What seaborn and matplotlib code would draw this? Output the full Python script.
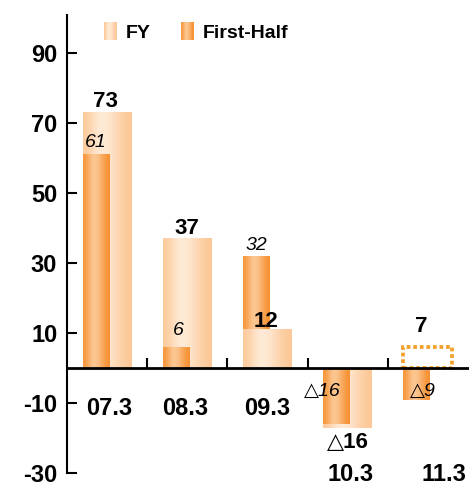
import numpy as np
import matplotlib
matplotlib.use("Agg")
import matplotlib.pyplot as plt
import seaborn as sns
from matplotlib.patches import Patch

# ---------------- DATA ----------------
periods = ["07.3", "08.3", "09.3", "10.3", "11.3"]
fy_values = [73, 37, 11, -17, 6]      # full year (last one is the forecast box)
fh_values = [61, 6, 32, -16, -9]      # first half
fy_labels = ["73", "37", "12", "△16", "7"]
fh_labels = ["61", "6", "32", "△16", "△9"]
y_ticks = [90, 70, 50, 30, 10, -10, -30]

# ---------------- LAYOUT (pixel offsets for labels) ----------------
fy_label_dx = [-2, 0, -2, 0, -7]
fy_label_gap = [1, 0, -2, 4, 10]
fh_label_off = [(0, 4), (2, 8), (0, 2), (-14, -23), (6, -23)]
cat_label_off = [(2, -40), (-2, -40), (0, -40), (3, -106), (16, -106)]

# ---------------- STYLE ----------------
sns.set_style("white")
plt.rcParams["font.family"] = ["Liberation Sans", "DejaVu Sans"]
plt.rcParams["text.color"] = "black"
plt.rcParams["xtick.color"] = "black"
plt.rcParams["ytick.color"] = "black"
plt.rcParams["axes.labelcolor"] = "black"

fy_edge_l, fy_mid, fy_edge_r = (252, 203, 158), (255, 234, 214), (252, 200, 152)
fh_edge_l, fh_mid, fh_edge_r = (247, 152, 62), (252, 198, 145), (246, 146, 52)
box_color = "#F5A028"


def gradient(left, mid, right, peak=0.4, n=80):
    t = np.linspace(0, 1, n)
    out = np.zeros((n, 3))
    for i, v in enumerate(t):
        if v < peak:
            s = v / peak
            a, b = left, mid
        else:
            s = (v - peak) / (1 - peak)
            a, b = mid, right
        s = s * s * (3 - 2 * s)
        out[i] = [(a[k] + (b[k] - a[k]) * s) / 255 for k in range(3)]
    return out[np.newaxis, :, :]


fy_grad = gradient(fy_edge_l, fy_mid, fy_edge_r, peak=0.38)
fh_grad = gradient(fh_edge_l, fh_mid, fh_edge_r, peak=0.42)

fig = plt.figure(figsize=(4.69, 4.86), dpi=100)
ax = fig.add_axes([67 / 469, 13 / 486, 401 / 469, 458 / 486])

fy_w, fh_w = 0.61, 0.33
sns.barplot(x=periods, y=fy_values, width=fy_w, color="#FDD7B2",
            errorbar=None, ax=ax)
n_fy = len(ax.patches)
sns.barplot(x=periods, y=fh_values, width=fh_w, color="#F7A055",
            errorbar=None, ax=ax)
fy_bars = ax.patches[:n_fy]
fh_bars = ax.patches[n_fy:]

# left-align first-half bars with full-year bars
for p in fh_bars:
    p.set_x(p.get_x() - (fy_w - fh_w) / 2)

for i, (pf, ph) in enumerate(zip(fy_bars, fh_bars)):
    # the smaller bar goes in front
    if abs(fh_values[i]) <= abs(fy_values[i]):
        zf, zh = 2, 3
    else:
        zf, zh = 3, 2
    for p, g, z in ((ph, fh_grad, zh), (pf, fy_grad, zf)):
        if p is pf and i == len(periods) - 1:
            p.set_facecolor("none")
            p.set_edgecolor(box_color)
            p.set_linewidth(2.7)
            p.set_linestyle((0, (1.0, 0.75)))
            p.set_capstyle("butt")
            p.set_zorder(z)
            continue
        x0, y0 = p.get_x(), p.get_y()
        x1, y1 = x0 + p.get_width(), y0 + p.get_height()
        ax.imshow(g, extent=(x0, x1, min(y0, y1), max(y0, y1)),
                  aspect="auto", zorder=z, interpolation="bicubic")
        p.set_facecolor("none")
        p.set_edgecolor("none")

# ---------------- AXES ----------------
ax.set_xlim(-0.5, 4.5)
ax.set_ylim(-30, 101)
ax.spines["top"].set_visible(False)
ax.spines["right"].set_visible(False)
ax.spines["bottom"].set_position(("data", 0))
ax.spines["bottom"].set_linewidth(2)
ax.spines["left"].set_linewidth(1.5)
ax.spines["bottom"].set_color("black")
ax.spines["left"].set_color("black")
ax.spines["bottom"].set_zorder(5)

ax.set_yticks(y_ticks)
ax.set_yticklabels([str(v) for v in y_ticks], fontsize=17, fontweight="bold")
ax.tick_params(axis="y", direction="in", length=7, width=1.5, pad=7,
               left=True, color="black", labelcolor="black")
ax.set_xticks([i + 0.5 for i in range(len(periods) - 1)])
ax.set_xticklabels([""] * (len(periods) - 1))
ax.tick_params(axis="x", direction="in", length=7, width=1.5, bottom=True,
               color="black")
ax.set_xlabel("")
ax.set_ylabel("")

# ---------------- LABELS ----------------
for i, p in enumerate(fy_bars):
    cx = p.get_x() + p.get_width() / 2
    v = fy_values[i]
    if v >= 0:
        ax.annotate(fy_labels[i], (cx, v), xytext=(fy_label_dx[i], fy_label_gap[i]),
                    textcoords="offset pixels", ha="center", va="bottom",
                    fontsize=16, fontweight="bold", zorder=6, color="black",
                    family=["Liberation Sans", "DejaVu Sans"])
    else:
        ax.annotate(fy_labels[i], (cx, v), xytext=(fy_label_dx[i], -fy_label_gap[i]),
                    textcoords="offset pixels", ha="center", va="top",
                    fontsize=16, fontweight="bold", zorder=6, color="black",
                    family=["Liberation Sans", "DejaVu Sans"])

for i, p in enumerate(fh_bars):
    cx = p.get_x() + p.get_width() / 2
    v = fh_values[i]
    dx, dy = fh_label_off[i]
    if v >= 0:
        ax.annotate(fh_labels[i], (cx, v), xytext=(dx, dy),
                    textcoords="offset pixels", ha="center", va="bottom",
                    fontsize=14, fontstyle="italic", zorder=6, color="black",
                    family=["Liberation Sans", "DejaVu Sans"])
    else:
        ax.annotate(fh_labels[i], (cx, 0), xytext=(dx, dy),
                    textcoords="offset pixels", ha="center", va="center",
                    fontsize=14, fontstyle="italic", zorder=6, color="black",
                    family=["Liberation Sans", "DejaVu Sans"])

for i, name in enumerate(periods):
    dx, dy = cat_label_off[i]
    ax.annotate(name, (i, 0), xytext=(dx, dy), textcoords="offset pixels",
                ha="center", va="center", fontsize=17, fontweight="bold",
                color="black", annotation_clip=False, zorder=6)

# ---------------- LEGEND ----------------
handles = [Patch(facecolor="#FDD7B2", edgecolor="none"),
           Patch(facecolor="#F7A055", edgecolor="none")]
leg = ax.legend(handles, ["FY", "First-Half"], loc="upper left",
                bbox_to_anchor=(0.093, 0.985), ncol=2, frameon=False,
                handlelength=0.62, handleheight=1.05, handletextpad=0.5,
                columnspacing=1.55, borderpad=0, borderaxespad=0,
                labelcolor="black",
                prop={"family": "Liberation Sans", "weight": "bold", "size": 14})

fig.canvas.draw()
inv = fig.transFigure.inverted()
for h, g in zip(leg.legend_handles, (fy_grad, fh_grad)):
    (x0, y0), (x1, y1) = inv.transform(h.get_window_extent().get_points())
    sw = fig.add_axes([x0, y0, x1 - x0, y1 - y0])
    sw.imshow(g, aspect="auto", interpolation="bicubic")
    sw.axis("off")

fig.savefig("out.png", dpi=100)
